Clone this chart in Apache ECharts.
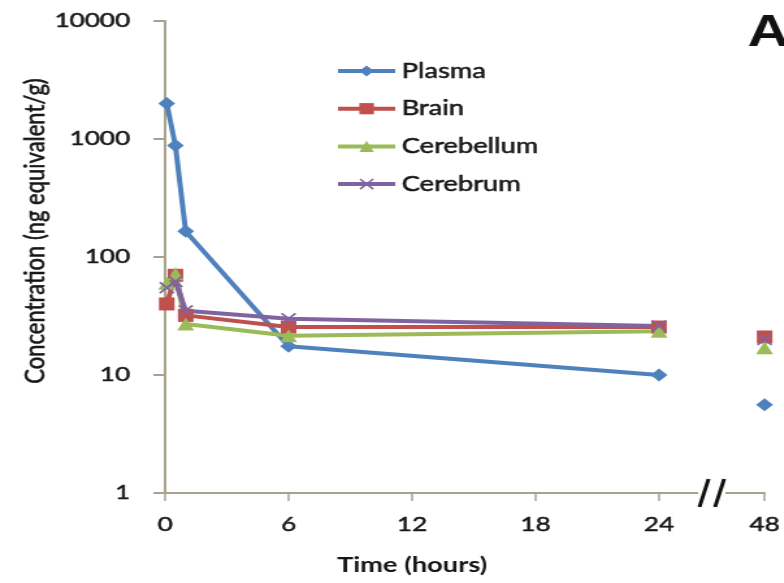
<!DOCTYPE html>
<html>
<head>
<meta charset="utf-8">
<script src="https://cdn.jsdelivr.net/npm/echarts@6/dist/echarts.min.js"></script>
<style>
  html, body { margin: 0; padding: 0; background: #ffffff; overflow: hidden; }
  /* the chart is laid out narrow and widened horizontally as a whole */
  #chart { width: 603px; height: 583px; transform: scaleX(1.3); transform-origin: 0 0; }
</style>
</head>
<body>
<div id="chart"></div>
<script>
// Sampling times (hours)
const times = [0.08, 0.5, 1, 6, 24, 48];

// Concentrations (ng equivalent/g)
const plasma     = [2000, 880, 165, 17.5, 10, 5.6];
const brain      = [40, 70, 32, 25.5, 25.5, 21];
const cerebellum = [60, 72, 27, 21.5, 23.5, 17];
const cerebrum   = [55, 62, 35, 30, 26, 20];

// Axis ticks
const xTicks = [0, 6, 12, 18, 24, 48];
const xTickLabels = ['0', '6', '12', '18', '24', '48'];
const yTicks = [1, 10, 100, 1000, 10000];

// Broken time axis: 0-24 h is linear, 24-48 h is compressed into a short segment
const BREAK_FROM = 24;
const XMAX = 29.13;
function pos(t) {
  return t <= BREAK_FROM ? t : BREAK_FROM + (t - BREAK_FROM) * (XMAX - BREAK_FROM) / (48 - BREAK_FROM);
}
// series data; the line is interrupted across the break
function seriesData(vals) {
  const out = [];
  times.forEach((t, i) => {
    if (i > 0 && t > BREAK_FROM && times[i - 1] <= BREAK_FROM) out.push([pos(36), '-']);
    out.push([pos(t), vals[i]]);
  });
  return out;
}

const AXIS_COLOR = '#a8a38c';
const TEXT_COLOR = '#161616';
const FONT = 'Lato';
const LINE_W = 4;
// a thin outline in the text colour gives the labels a heavier stroke
const HEAVY = { textBorderColor: TEXT_COLOR, textBorderWidth: 0.5 };
const crossPath = 'path://M0,1 L1,0 L5,4 L9,0 L10,1 L6,5 L10,9 L9,10 L5,6 L1,10 L0,9 L4,5 Z';

const chart = echarts.init(document.getElementById('chart'));

const lineSeries = (name, vals, color, symbol, size) => ({
  name: name,
  type: 'line',
  data: seriesData(vals),
  connectNulls: false,
  symbol: symbol,
  symbolSize: size,
  showAllSymbol: true,
  lineStyle: { color: color, width: LINE_W },
  itemStyle: { color: color },
  emphasis: { disabled: true }
});

chart.setOption({
  animation: false,
  backgroundColor: '#ffffff',
  grid: { left: 127, right: 13.8, top: 21, bottom: 90 },
  legend: {
    orient: 'vertical',
    left: 253,
    top: 54,
    itemWidth: 44,
    itemHeight: 14,
    itemGap: 13.7,
    lineStyle: { width: LINE_W },
    textStyle: Object.assign({ fontFamily: FONT, fontSize: 21, color: TEXT_COLOR, lineHeight: 24 }, HEAVY),
    data: ['Plasma', 'Brain', 'Cerebellum', 'Cerebrum']
  },
  xAxis: {
    type: 'value',
    min: 0,
    max: XMAX,
    splitLine: { show: false },
    axisLine: { lineStyle: { color: AXIS_COLOR, width: 2 } },
    axisTick: { customValues: xTicks.map(pos), length: 8, lineStyle: { color: AXIS_COLOR, width: 1.5 } },
    axisLabel: Object.assign({
      customValues: xTicks.map(pos),
      margin: 22,
      fontFamily: FONT,
      fontSize: 20,
      color: TEXT_COLOR,
      formatter: function (v) {
        const i = xTicks.findIndex(t => Math.abs(pos(t) - v) < 1e-6);
        return i >= 0 ? xTickLabels[i] : '';
      }
    }, HEAVY)
  },
  yAxis: {
    type: 'log',
    logBase: 10,
    min: yTicks[0],
    max: yTicks[yTicks.length - 1],
    splitLine: { show: false },
    axisLine: { lineStyle: { color: AXIS_COLOR, width: 2 } },
    axisTick: { length: 9, lineStyle: { color: AXIS_COLOR, width: 2 } },
    axisLabel: Object.assign({
      margin: 27,
      fontFamily: FONT,
      fontSize: 20,
      color: TEXT_COLOR,
      formatter: v => String(Math.round(v))
    }, HEAVY)
  },
  series: [
    lineSeries('Plasma', plasma, '#4f81bd', 'diamond', [13, 13]),
    lineSeries('Brain', brain, '#c0504d', 'rect', [12, 13]),
    lineSeries('Cerebellum', cerebellum, '#9bbb59', 'triangle', [13, 13]),
    lineSeries('Cerebrum', cerebrum, '#8064a2', crossPath, [12, 12])
  ]
});

// Titles, panel letter and the break mark on the time axis
const bx = chart.convertToPixel({ xAxisIndex: 0 }, pos(36));
const by = chart.convertToPixel({ yAxisIndex: 0 }, yTicks[0]);
const tx = chart.convertToPixel({ xAxisIndex: 0 }, 12);

chart.setOption({
  graphic: [
    {
      type: 'text',
      x: 27, y: 231,
      rotation: Math.PI / 2,
      style: {
        text: 'Concentration (ng equivalent/g)',
        fontFamily: FONT, fontSize: 22, fill: TEXT_COLOR,
        stroke: TEXT_COLOR, lineWidth: 0.5,
        align: 'center', verticalAlign: 'middle'
      }
    },
    {
      type: 'text',
      x: tx, y: 565,
      style: {
        text: 'Time (hours)',
        fontFamily: FONT, fontSize: 21, fontWeight: 'bold', fill: TEXT_COLOR,
        align: 'center', verticalAlign: 'middle'
      }
    },
    {
      type: 'text',
      x: 575, y: 34,
      style: {
        text: 'A',
        fontFamily: 'Liberation Sans', fontSize: 44, fontWeight: 'bold', fill: '#111111',
        align: 'left', verticalAlign: 'middle'
      }
    },
    {
      type: 'rect',
      shape: { x: bx - 10.5, y: by - 4, width: 21, height: 8 },
      style: { fill: '#ffffff' },
      z: 50
    },
    {
      type: 'line',
      shape: { x1: bx - 9.5, y1: by + 14, x2: bx - 2.5, y2: by - 14 },
      style: { stroke: '#111111', lineWidth: 3 },
      z: 51
    },
    {
      type: 'line',
      shape: { x1: bx + 2.5, y1: by + 14, x2: bx + 9.5, y2: by - 14 },
      style: { stroke: '#111111', lineWidth: 3 },
      z: 51
    }
  ]
});
</script>
</body>
</html>
